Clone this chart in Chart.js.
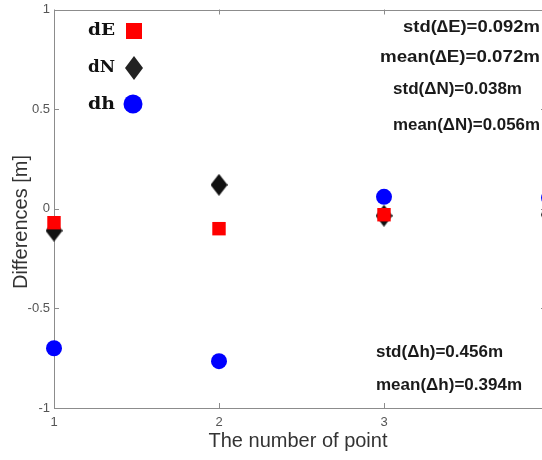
<!DOCTYPE html>
<html>
<head>
<meta charset="utf-8">
<script src="https://cdn.jsdelivr.net/npm/chart.js@4/dist/chart.umd.min.js"></script>
<style>
html,body{margin:0;padding:0;background:#fff;overflow:hidden;width:542px;height:460px;}
canvas{display:block;}
</style>
</head>
<body>
<canvas id="c" width="600" height="460"></canvas>
<script>
// ---- data ----
const pointNumbers = [1, 2, 3, 4];
const dE = [-0.07, -0.10, -0.03, -0.035];
const dN = [-0.11, 0.12, -0.035, -0.03];
const dh = [-0.70, -0.765, 0.06, 0.055];
const seriesNames = ['dE', 'dN', 'dh'];
const yTickValues = [-1, -0.5, 0, 0.5, 1];
const xTickValues = [1, 2, 3, 4];
const statsTop = ['std(\u2206E)=0.092m', 'mean(\u2206E)=0.072m', 'std(\u0394N)=0.038m', 'mean(\u0394N)=0.056m'];
const statsBottom = ['std(\u0394h)=0.456m', 'mean(\u0394h)=0.394m'];
const xTitle = 'The number of point';
const yTitle = 'Differences [m]';

function toXY(vals) { return pointNumbers.map((x, i) => ({x: x, y: vals[i]})); }

function diamondCanvas(w, h, color) {
  const cv = document.createElement('canvas');
  cv.width = w; cv.height = h;
  const g = cv.getContext('2d');
  g.fillStyle = color;
  g.beginPath();
  g.moveTo(w / 2, 0); g.lineTo(w, h / 2); g.lineTo(w / 2, h); g.lineTo(0, h / 2);
  g.closePath(); g.fill();
  return cv;
}
const diamond = diamondCanvas(17, 22, '#111');

function fitText(ctx, text, x, y, width) {
  const w = ctx.measureText(text).width;
  ctx.save();
  ctx.translate(x, y);
  ctx.scale(width / w, 1);
  ctx.fillText(text, 0, 0);
  ctx.restore();
}

const decor = {
  id: 'decor',
  beforeDraw(chart) {
    const ctx = chart.ctx;
    ctx.save();
    ctx.fillStyle = '#fff';
    ctx.fillRect(0, 0, chart.width, chart.height);
    ctx.restore();
  },
  beforeDatasetsDraw(chart) {
    const ctx = chart.ctx, a = chart.chartArea;
    const xs = chart.scales.x, ys = chart.scales.y;
    ctx.save();
    ctx.strokeStyle = '#8c8c8c';
    ctx.lineWidth = 1;
    const L = Math.round(a.left) + 0.5, T = Math.round(a.top) + 0.5, B = Math.round(a.bottom) + 0.5;
    ctx.beginPath();
    ctx.moveTo(a.right, T); ctx.lineTo(L, T); ctx.lineTo(L, B); ctx.lineTo(a.right, B);
    ctx.stroke();
    ctx.beginPath();
    const tl = 5;
    xTickValues.forEach(v => {
      const px = Math.round(xs.getPixelForValue(v)) + 0.5;
      ctx.moveTo(px, a.bottom); ctx.lineTo(px, a.bottom - tl);
      ctx.moveTo(px, a.top); ctx.lineTo(px, a.top + tl);
    });
    yTickValues.forEach(v => {
      const py = Math.round(ys.getPixelForValue(v)) + 0.5;
      ctx.moveTo(a.left, py); ctx.lineTo(a.left + tl, py);
      ctx.moveTo(a.right, py); ctx.lineTo(a.right - 8, py);
    });
    ctx.stroke();
    ctx.restore();
  },
  afterDraw(chart) {
    const ctx = chart.ctx;
    ctx.save();
    // axis titles
    ctx.fillStyle = '#333';
    ctx.font = '20px "Liberation Sans", Arial, sans-serif';
    ctx.textAlign = 'center';
    ctx.textBaseline = 'middle';
    ctx.fillText(xTitle, 298, 441);
    ctx.save();
    ctx.translate(21, 222);
    ctx.rotate(-Math.PI / 2);
    ctx.fillText(yTitle, 0, 0);
    ctx.restore();

    // stats text
    ctx.fillStyle = '#1a1a1a';
    ctx.font = 'bold 17px "Liberation Sans", Arial, sans-serif';
    ctx.textAlign = 'left';
    const topPos = [[403, 27, 137], [380, 57, 160], [393, 89, 129], [393, 125, 147]];
    statsTop.forEach((t, i) => fitText(ctx, t, topPos[i][0], topPos[i][1], topPos[i][2]));
    const botPos = [[376, 352, 127], [376, 385, 146]];
    statsBottom.forEach((t, i) => fitText(ctx, t, botPos[i][0], botPos[i][1], botPos[i][2]));

    // legend
    ctx.font = 'bold 16px "DejaVu Serif", serif';
    ctx.fillStyle = '#111';
    const legY = [31, 68, 105];
    seriesNames.forEach((n, i) => fitText(ctx, n, 88, legY[i], 27));
    ctx.fillStyle = '#ff0000';
    ctx.fillRect(126, legY[0] - 8, 16, 16);
    ctx.drawImage(diamondCanvas(18, 24, '#222'), 134 - 9, legY[1] - 12);
    ctx.fillStyle = '#0000ff';
    ctx.beginPath();
    ctx.arc(133, legY[2] - 1, 9.5, 0, Math.PI * 2);
    ctx.fill();
    ctx.restore();
  }
};

new Chart(document.getElementById('c'), {
  type: 'scatter',
  data: {
    datasets: [
      {label: seriesNames[0], data: toXY(dE), pointStyle: 'rect', pointRadius: 9.5, pointHoverRadius: 9.5,
       backgroundColor: '#ff0000', borderColor: '#ff0000', borderWidth: 0, order: 0, clip: false},
      {label: seriesNames[1], data: toXY(dN), pointStyle: diamond, pointRadius: 9, pointHoverRadius: 9,
       backgroundColor: '#111', borderColor: '#111', borderWidth: 0, order: 1, clip: false},
      {label: seriesNames[2], data: toXY(dh), pointStyle: 'circle', pointRadius: 8, pointHoverRadius: 8,
       backgroundColor: '#0000ff', borderColor: '#0000ff', borderWidth: 0, order: 2, clip: false}
    ]
  },
  options: {
    responsive: false,
    animation: false,
    events: [],
    layout: {padding: {left: 0, top: 6, right: 51, bottom: 0}},
    plugins: {legend: {display: false}, tooltip: {enabled: false}},
    scales: {
      x: {
        type: 'linear', min: 1, max: 4,
        afterBuildTicks(s) { s.ticks = xTickValues.map(v => ({value: v})); },
        afterFit(s) { s.height = 52; s.paddingLeft = 0; s.paddingRight = 0; },
        grid: {display: false, drawTicks: false},
        border: {display: false},
        ticks: {color: '#555', font: {size: 13, family: '"Liberation Sans", Arial, sans-serif'}, padding: 7,
                maxRotation: 0, autoSkip: false, callback: v => String(v)}
      },
      y: {
        type: 'linear', min: -1, max: 1,
        afterBuildTicks(s) { s.ticks = yTickValues.map(v => ({value: v})); },
        afterFit(s) { s.width = 54; s.paddingTop = 0; s.paddingBottom = 0; },
        grid: {display: false, drawTicks: false},
        border: {display: false},
        ticks: {color: '#555', font: {size: 13, family: '"Liberation Sans", Arial, sans-serif'}, padding: 4,
                autoSkip: false, callback: v => String(v)}
      }
    }
  },
  plugins: [decor]
});
</script>
</body>
</html>
